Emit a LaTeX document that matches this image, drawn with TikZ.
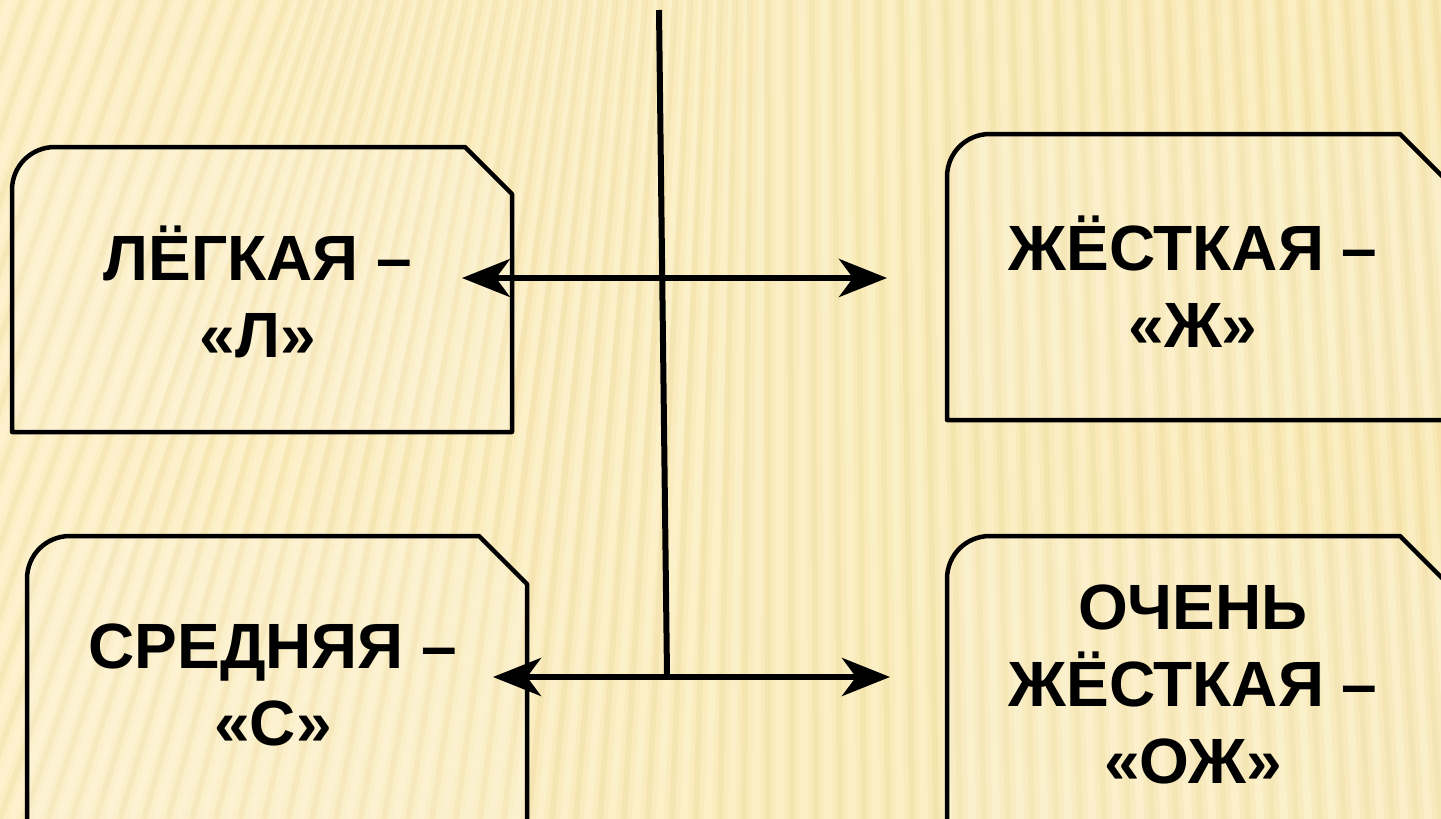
\documentclass[tikz,border=0pt]{standalone}
\usepackage{fontspec}
\setmainfont{Liberation Sans}
\usetikzlibrary{arrows.meta}
\definecolor{bgA}{RGB}{252,239,198}
\definecolor{bgB}{RGB}{248,232,180}
\definecolor{stripeD}{RGB}{232,210,140}
\definecolor{stripeL}{RGB}{255,248,220}
\tikzset{
  stripedark/.style={draw=stripeD, draw opacity=0.24, line width=6pt},
  stripelight/.style={draw=stripeL, draw opacity=0.35, line width=8pt},
  framebox/.style={draw=black, line width=4.5pt, line join=round, fill=white, fill opacity=0.12},
  label/.style={font=\bfseries\fontsize{64}{77}\selectfont, align=center, anchor=base, inner sep=0pt, text=black},
  link/.style={draw=black, line width=6pt, {Stealth[length=48pt,width=38pt,inset=14pt]}-{Stealth[length=48pt,width=38pt,inset=14pt]}},
  stem/.style={draw=black, line width=6pt}
}
\begin{document}
\begin{tikzpicture}[x=1pt,y=-1pt]
\useasboundingbox (0,0) rectangle (1441,819);
\clip (0,0) rectangle (1441,819);
% background
\shade[left color=bgA, right color=bgB] (0,0) rectangle (1441,819);
\foreach \i in {-16,...,64} {
  \pgfmathsetmacro\xb{\i*24}
  \pgfmathsetmacro\k{0.35*min(1,max(0,1-\xb/760)) - 0.06*max(0,(\xb-760)/680)}
  \pgfmathsetmacro\xt{\xb+\k*819}
  \draw[stripelight] (\xb+12,819) -- (\xt+12,0);
  \draw[stripedark] (\xb,819) -- (\xt,0);
}
% boxes
\draw[framebox] (12,432) -- (12,190) .. controls (12,166) and (31,147) .. (55,147) -- (465,147) -- (512,194) -- (512,432) -- cycle;
\draw[framebox] (947,420) -- (947,177) .. controls (947,153) and (966,134) .. (990,134) -- (1400,134) -- (1447,181) -- (1447,420) -- cycle;
\draw[framebox] (27,840) -- (27,579) .. controls (27,555) and (46,536) .. (70,536) -- (479,536) -- (527,584) -- (527,840) -- cycle;
\draw[framebox] (947,840) -- (947,579) .. controls (947,555) and (966,536) .. (990,536) -- (1400,536) -- (1447,583) -- (1447,840) -- cycle;
% connectors
\coordinate (vtop) at (659,10);
\coordinate (vbot) at (667,675);
\coordinate (a1l) at (462,278);
\coordinate (a1r) at (887,278);
\coordinate (a2l) at (493,677);
\coordinate (a2r) at (890,677);
\draw[stem] (vtop) -- (vbot);
\draw[link] (a1l) -- (a1r);
\draw[link] (a2l) -- (a2r);
% labels (anchor base = baseline of the last line)
\node[label] (light) at (258,357) {ЛЁГКАЯ –\\«Л»};
\node[label] (hard) at (1193,347) {ЖЁСТКАЯ –\\«Ж»};
\node[label] (medium) at (273,745) {СРЕДНЯЯ –\\«С»};
\node[label] (veryhard) at (1193,783) {ОЧЕНЬ\\ЖЁСТКАЯ –\\«ОЖ»};
\end{tikzpicture}
\end{document}
